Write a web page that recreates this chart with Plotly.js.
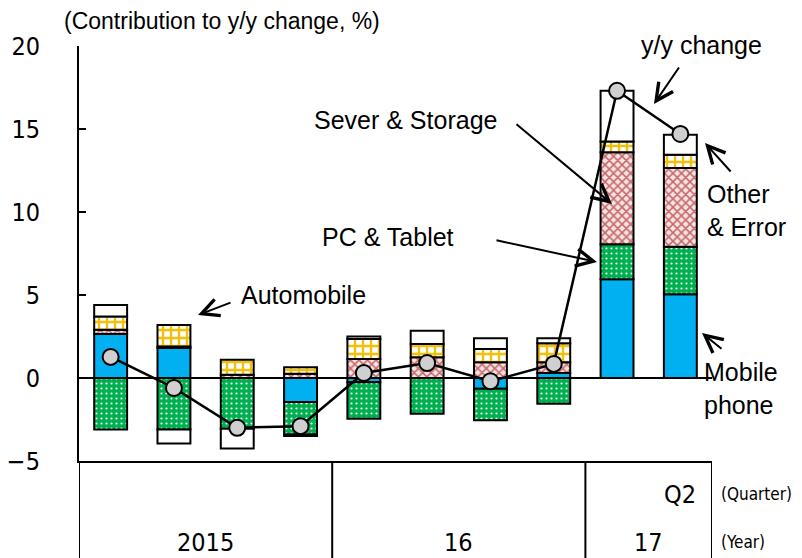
<!DOCTYPE html>
<html>
<head>
<meta charset="utf-8">
<script src="https://cdn.plot.ly/plotly-3.0.1.min.js"></script>
<style>html,body{margin:0;padding:0;background:#fff;}#chart{width:802px;height:558px;}</style>
</head>
<body>
<div id="chart"></div>
<script>
// ---- data ----
var quarters = ["2015 Q1","2015 Q2","2015 Q3","2015 Q4","2016 Q1","2016 Q2","2016 Q3","2016 Q4","2017 Q1","2017 Q2"];
var mobilePhone   = [2.65, 1.8, 0, -1.45, -0.25, 0, -0.65, 0.3, 5.95, 5.05];
var pcTablet      = [-3.1, -3.1, -3.05, -1.95, -2.2, -2.15, -1.9, -1.55, 2.1, 2.85];
var serverStorage = [0.25, 0.1, 0.2, 0.25, 1.15, 1.25, 0.95, 0.65, 5.55, 4.75];
var automobile    = [0.8, 1.3, 0.9, 0.4, 1.2, 0.8, 0.8, 1.15, 0.65, 0.8];
var otherError    = [0.7, -0.85, -1.2, -0.1, 0.15, 0.8, 0.65, 0.3, 3.05, 1.2];
var yoyChange     = [1.27, -0.6, -3.0, -2.9, 0.3, 0.9, -0.2, 0.85, 17.3, 14.7];
var yTicks = [-5, 0, 5, 10, 15, 20];
var yearLabels = ["2015", "16", "17"];
var yearCenters = [1.5, 5.5, 8.5];
var yearBounds = [-0.5, 3.5, 7.5, 9.5];

// ---- layout helpers (pixel -> paper) ----
var W = 802, H = 558, ML = 79, MR = 90, MT = 46, MB = 97;
var PW = W - ML - MR, PH = H - MT - MB;
function px(x){ return (x - ML) / PW; }
function py(y){ return (H - MB - y) / PH; }

var LINE = {color: "#000", width: 2};
function barTrace(name, vals, color, pattern){
  var t = {type: "bar", name: name, x: quarters, y: vals, width: 0.52,
    marker: {color: color, line: LINE}, hoverinfo: "name+y"};
  if (pattern) t.marker.pattern = pattern;
  return t;
}

var traces = [
  barTrace("Mobile phone", mobilePhone, "#00b0f0"),
  barTrace("PC & Tablet", pcTablet, "#00b050",
    {shape: ".", bgcolor: "#00b050", fgcolor: "#ffffff", size: 5, solidity: 0.15, fillmode: "replace"}),
  barTrace("Sever & Storage", serverStorage, "#ffffff",
    {shape: "x", bgcolor: "#f6e4e4", fgcolor: "#c8686a", size: 6, solidity: 0.45, fillmode: "replace"}),
  barTrace("Automobile", automobile, "#ffffff",
    {shape: "+", bgcolor: "#ffffff", fgcolor: "#f2bf0a", size: 8, solidity: 0.5, fillmode: "replace"}),
  barTrace("Other & Error", otherError, "#ffffff"),
  {type: "scatter", mode: "lines+markers", name: "y/y change", x: quarters, y: yoyChange,
   line: {color: "#000", width: 2.5},
   marker: {size: 16, color: "#d0d0d0", line: {color: "#000", width: 2}}}
];

var TXT = {family: "Liberation Sans, Arial, sans-serif", size: 25, color: "#000"};
var NUM = {family: "DejaVu Sans Condensed, sans-serif", size: 25, color: "#000"};
var SMALL = {family: "DejaVu Sans Condensed, sans-serif", size: 17, color: "#000"};

function label(text, x, y, font, xanchor){
  return {xref: "paper", yref: "paper", x: px(x), y: py(y), text: text, showarrow: false,
    xanchor: xanchor || "left", yanchor: "middle", font: font, align: "left"};
}
function arrow(tx, ty, hx, hy){
  return {xref: "paper", yref: "paper", x: px(hx), y: py(hy), ax: tx - hx, ay: ty - hy,
    axref: "pixel", ayref: "pixel", text: "", showarrow: true, arrowhead: 5, arrowsize: 1.7,
    arrowwidth: 2, arrowcolor: "#000"};
}

var annotations = [
  label("(Contribution to y/y change, %)", 62, 21, {family: TXT.family, size: 23, color: "#000"}),
  label("y/y change", 639, 45, TXT),
  label("Sever & Storage", 312, 120, TXT),
  label("PC & Tablet", 320, 237, TXT),
  label("Automobile", 239, 295, TXT),
  label("Other<br>& Error", 705, 210, TXT),
  label("Mobile<br>phone", 702, 388, TXT),
  label("(Quarter)", 719, 494, SMALL),
  label("(Year)", 719, 542, SMALL),
  {xref: "x", yref: "paper", x: 9, y: py(494), text: "Q2", showarrow: false, xanchor: "center", yanchor: "middle", font: NUM},
  arrow(680, 66, 654, 104),
  arrow(515, 123, 612, 204),
  arrow(495, 240, 597, 262),
  arrow(232, 302, 198, 315),
  arrow(732, 173, 705, 143),
  arrow(723, 350, 702, 333)
];
for (var i = 0; i < yearLabels.length; i++) {
  annotations.push({xref: "x", yref: "paper", x: yearCenters[i], y: py(542), text: yearLabels[i],
    showarrow: false, xanchor: "center", yanchor: "middle", font: NUM});
}

var shapes = yearBounds.map(function(b){
  return {type: "line", xref: "x", yref: "paper", x0: b, x1: b, y0: 0, y1: -0.25, line: LINE};
});

var layout = {
  width: W, height: H,
  margin: {l: ML, r: MR, t: MT, b: MB, pad: 0},
  paper_bgcolor: "#fff", plot_bgcolor: "#fff",
  barmode: "relative",
  showlegend: false,
  xaxis: {type: "category", categoryorder: "array", categoryarray: quarters, range: [-0.5, 9.5],
    showticklabels: false, ticks: "", showgrid: false, zeroline: false,
    showline: true, linecolor: "#000", linewidth: 2, fixedrange: true},
  yaxis: {range: [-5, 20], tickvals: yTicks, ticks: "inside", ticklen: 7, tickwidth: 2, tickcolor: "#000",
    showgrid: false, zeroline: true, zerolinecolor: "#000", zerolinewidth: 2,
    showline: true, linecolor: "#000", linewidth: 2, tickfont: NUM, ticklabelstandoff: 32, fixedrange: true},
  annotations: annotations,
  shapes: shapes
};

Plotly.newPlot("chart", traces, layout, {displayModeBar: false, staticPlot: true});
</script>
</body>
</html>
